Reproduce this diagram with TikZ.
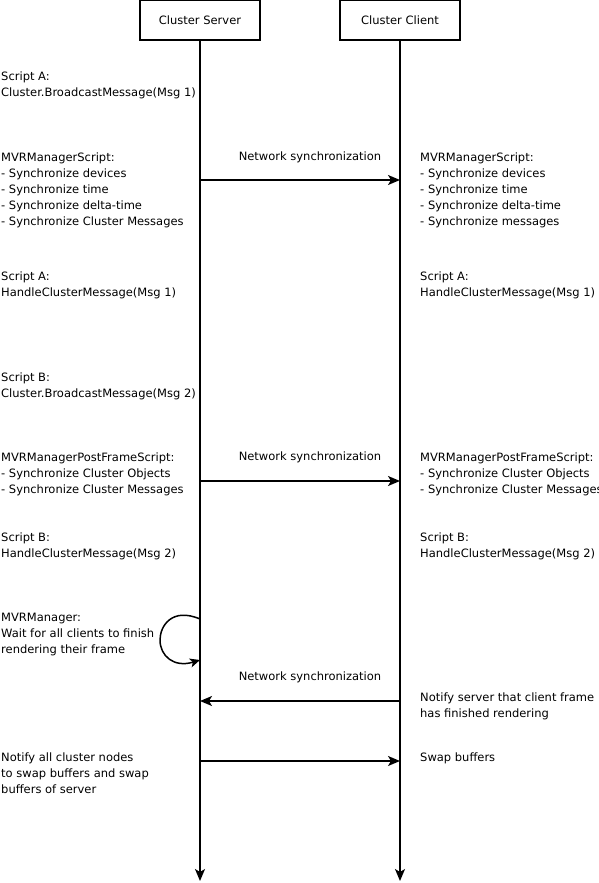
\documentclass[tikz,border=0pt]{standalone}
\usepackage{fontspec}
\setmainfont{DejaVu Sans}
\usetikzlibrary{arrows.meta}
\begin{document}
\begin{tikzpicture}[x=1pt,y=-1pt,
  txt/.style={anchor=north west, inner sep=0pt, align=left, font=\fontsize{11.5}{16}\selectfont},
  lbl/.style={inner sep=0pt, font=\fontsize{11.5}{16}\selectfont},
  actor/.style={draw, line width=1.5pt, minimum width=120pt, minimum height=40pt, inner sep=0pt, font=\fontsize{11.5}{16}\selectfont},
  life/.style={line width=1.5pt, -{Stealth[length=12pt,width=10pt,inset=3pt]}},
  msg/.style={line width=1.5pt, -{Stealth[length=12pt,width=10pt,inset=3pt]}}
]
\useasboundingbox (0,0) rectangle (598,883);
\newcommand{\fs}{\rule{0pt}{10pt}}
% actors
\node[actor] (srv) at (200,20) {Cluster Server};
\node[actor] (cli) at (400,20) {Cluster Client};
\coordinate (srvend) at (200,881);
\coordinate (cliend) at (400,881);
\draw[life] (srv.south) -- (srvend);
\draw[life] (cli.south) -- (cliend);

% left texts
\node[txt] (la) at (1,70.5) {\fs Script A:\\Cluster.BroadcastMessage(Msg 1)};
\node[txt] (lb) at (1,151.5) {\fs MVRManagerScript:\\- Synchronize devices\\- Synchronize time\\- Synchronize delta-time\\- Synchronize Cluster Messages};
\node[txt] (lc) at (1,270.5) {\fs Script A:\\HandleClusterMessage(Msg 1)};
\node[txt] (ld) at (1,371.5) {\fs Script B:\\Cluster.BroadcastMessage(Msg 2)};
\node[txt] (le) at (1,451.5) {\fs MVRManagerPostFrameScript:\\- Synchronize Cluster Objects\\- Synchronize Cluster Messages};
\node[txt] (lf) at (1,531.5) {\fs Script B:\\HandleClusterMessage(Msg 2)};
\node[txt] (lg) at (1,611.5) {\fs MVRManager:\\Wait for all clients to finish\\rendering their frame};
\node[txt] (lh) at (1,751.5) {\fs Notify all cluster nodes\\to swap buffers and swap\\buffers of server};

% right texts
\node[txt] (rb) at (420,151.5) {\fs MVRManagerScript:\\- Synchronize devices\\- Synchronize time\\- Synchronize delta-time\\- Synchronize messages};
\node[txt] (rc) at (420,270.5) {\fs Script A:\\HandleClusterMessage(Msg 1)};
\node[txt] (re) at (420,451.5) {\fs MVRManagerPostFrameScript:\\- Synchronize Cluster Objects\\- Synchronize Cluster Messages};
\node[txt] (rf) at (420,531.5) {\fs Script B:\\HandleClusterMessage(Msg 2)};
\node[txt] (rg) at (420,691.5) {\fs Notify server that client frame\\has finished rendering};
\node[txt] (rh) at (420,751.5) {\fs Swap buffers};

% messages
\coordinate (s1) at (200,180); \coordinate (c1) at (400,180);
\draw[msg] (s1) -- (c1);
\node[lbl] (n1) at (310,157) {Network synchronization};
\coordinate (s2) at (200,481); \coordinate (c2) at (400,481);
\draw[msg] (s2) -- (c2);
\node[lbl] (n2) at (310,457) {Network synchronization};
\coordinate (s3) at (200,701); \coordinate (c3) at (400,701);
\draw[msg] (c3) -- (s3);
\node[lbl] (n3) at (310,677) {Network synchronization};
\coordinate (s4) at (200,761); \coordinate (c4) at (400,761);
\draw[msg] (s4) -- (c4);

% self loop
\coordinate (l1) at (200,619);
\coordinate (l2) at (200,660);
\draw[line width=1.5pt, -{Stealth[length=10pt,width=9pt,inset=2.5pt]}] (l1) .. controls (172,607) and (160,626) .. (160,640) .. controls (160,656) and (174,668) .. (l2);
\end{tikzpicture}
\end{document}
